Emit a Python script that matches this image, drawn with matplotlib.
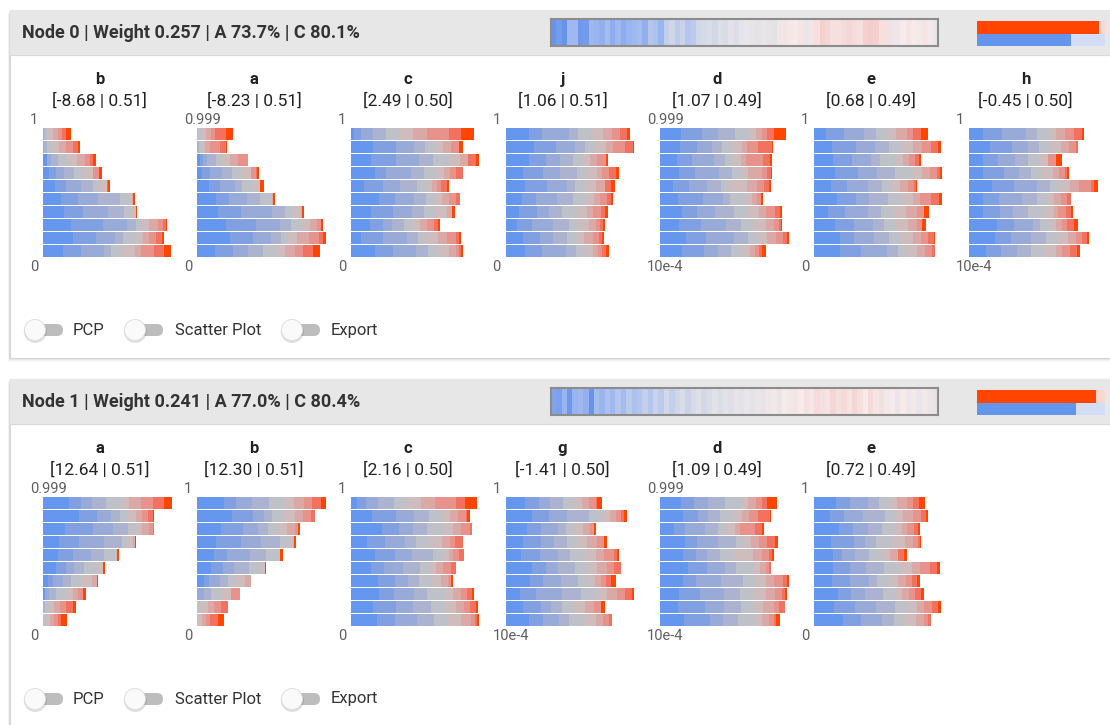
import matplotlib
matplotlib.use("Agg")
import matplotlib.pyplot as plt
from matplotlib.patches import Rectangle, FancyBboxPatch, Circle
from matplotlib.colors import LinearSegmentedColormap

plt.rcParams['font.family'] = ['Roboto', 'DejaVu Sans']

W, H = 1110, 725

# ten value classes, from blue through grey to orange-red
level_colors = ['#6697ee', '#80a0e1', '#98aad8', '#acb3d0', '#bec2c8',
                '#cfbdbd', '#daa9a6', '#e7928a', '#f2715f', '#ff4500']

# ---------------- Node 0 ----------------
node0_title = "Node 0 | Weight 0.257 | A 73.7% | C 80.1%"
node0_features = ['b', 'a', 'c', 'j', 'd', 'e', 'h']
node0_mean = [-8.68, -8.23, 2.49, 1.06, 1.07, 0.68, -0.45]
node0_std = [0.51, 0.51, 0.50, 0.51, 0.49, 0.49, 0.50]
node0_top = ['1', '0.999', '1', '1', '0.999', '1', '1']
node0_bottom = ['0', '0', '0', '0', '10e-4', '0', '10e-4']
node0_summary = [0.95, 0.737]
node0_strip = [-0.9, -0.8, -0.9, -0.45, -0.45, -0.85, -0.8, -0.45, -0.5, -0.55,
               -0.4, -0.6, -0.45, -0.6, -0.5, -0.45, -0.4, -0.55, -0.3, -0.35,
               -0.5, -0.2, -0.12, -0.25, -0.15, -0.3, -0.25, -0.1, -0.08, -0.05,
               -0.1, -0.03, -0.06, 0.0, -0.04, 0.03, 0.08, 0.05, 0.0, 0.1,
               0.04, 0.02, 0.12, 0.25, 0.22, 0.2, 0.25, 0.08, 0.25, 0.3,
               0.45, 0.4, 0.3, 0.3, 0.35, 0.4, 0.35, 0.3, 0.45, 0.5,
               0.45, 0.3, 0.3, 0.1, 0.12, 0.2, 0.25, 0.2, 0.18, 0.25, 0.15, 0.1]

n0_b = [[0, 0, 0, 2, 3, 5, 5, 4, 4, 5],
        [0, 0, 1, 3, 5, 7, 7, 7, 5, 2],
        [4, 0, 4, 7, 9, 10, 8, 5, 3, 3],
        [6, 7, 8, 10, 10, 9, 0, 6, 0, 3],
        [12, 11, 15, 12, 7, 7, 0, 0, 1, 2],
        [18, 17, 20, 22, 10, 2, 1, 0, 0, 2],
        [21, 19, 25, 16, 7, 5, 0, 0, 0, 1],
        [28, 32, 24, 9, 6, 7, 9, 5, 3, 1],
        [30, 23, 19, 8, 12, 8, 6, 7, 6, 2],
        [20, 18, 23, 7, 11, 13, 6, 13, 10, 7]]
n0_a = [[0, 0, 0, 0, 5, 4, 5, 4, 11, 7],
        [0, 0, 0, 2, 2, 4, 5, 10, 6, 1],
        [3, 3, 4, 9, 6, 8, 8, 10, 0, 0],
        [5, 8, 12, 10, 9, 10, 0, 5, 1, 2],
        [12, 11, 15, 7, 11, 7, 0, 0, 0, 4],
        [19, 13, 18, 13, 12, 0, 1, 0, 0, 2],
        [21, 23, 31, 13, 8, 8, 1, 0, 0, 2],
        [29, 30, 24, 11, 11, 8, 7, 4, 0, 2],
        [33, 23, 18, 10, 7, 9, 12, 10, 4, 3],
        [18, 18, 15, 15, 12, 10, 10, 8, 10, 7]]
n0_c = [[3, 7, 12, 13, 13, 14, 14, 22, 12, 13],
        [22, 23, 18, 11, 11, 7, 8, 8, 0, 4],
        [20, 25, 23, 14, 16, 11, 8, 0, 8, 3],
        [24, 11, 25, 13, 11, 9, 6, 6, 7, 0],
        [13, 19, 17, 17, 10, 5, 5, 4, 6, 2],
        [28, 16, 19, 12, 9, 7, 7, 7, 4, 0],
        [20, 22, 19, 12, 12, 11, 5, 0, 0, 3],
        [19, 13, 9, 12, 9, 7, 7, 7, 4, 2],
        [10, 22, 24, 11, 8, 12, 9, 9, 3, 2],
        [24, 18, 23, 12, 9, 12, 7, 3, 2, 2]]
n0_j = [[23, 13, 27, 9, 14, 11, 9, 8, 7, 3],
        [28, 22, 19, 10, 10, 11, 7, 12, 8, 1],
        [23, 17, 14, 13, 10, 7, 7, 9, 0, 2],
        [17, 20, 17, 17, 9, 11, 5, 7, 7, 3],
        [19, 22, 20, 8, 10, 11, 9, 0, 6, 4],
        [16, 14, 21, 16, 12, 9, 6, 7, 4, 2],
        [13, 18, 12, 13, 16, 9, 6, 8, 4, 3],
        [11, 15, 21, 16, 8, 12, 7, 4, 3, 2],
        [17, 17, 13, 14, 10, 7, 9, 6, 3, 2],
        [19, 17, 24, 10, 10, 7, 5, 4, 4, 3]]
n0_d = [[21, 21, 16, 17, 14, 7, 6, 5, 7, 12],
        [20, 17, 15, 10, 10, 10, 5, 11, 14, 1],
        [17, 15, 22, 11, 8, 8, 5, 17, 7, 2],
        [19, 16, 24, 13, 9, 7, 14, 5, 4, 1],
        [13, 16, 18, 14, 9, 17, 10, 7, 5, 2],
        [18, 25, 20, 7, 16, 6, 5, 4, 0, 2],
        [22, 15, 18, 19, 13, 12, 7, 9, 5, 2],
        [19, 22, 25, 15, 13, 12, 8, 5, 2, 1],
        [26, 20, 28, 14, 9, 10, 9, 7, 4, 2],
        [22, 22, 14, 13, 11, 8, 5, 4, 3, 4]]
n0_e = [[12, 18, 20, 12, 11, 9, 11, 6, 8, 7],
        [18, 24, 19, 14, 13, 11, 9, 9, 7, 3],
        [19, 19, 19, 9, 16, 7, 6, 6, 4, 2],
        [21, 23, 19, 18, 16, 11, 8, 7, 3, 2],
        [17, 16, 21, 14, 10, 8, 8, 6, 2, 1],
        [23, 19, 13, 19, 13, 12, 7, 11, 8, 3],
        [14, 17, 23, 13, 12, 13, 11, 7, 0, 5],
        [21, 19, 19, 11, 11, 13, 9, 5, 0, 4],
        [26, 14, 20, 15, 12, 12, 8, 7, 6, 1],
        [26, 21, 26, 11, 8, 11, 8, 7, 3, 0]]
n0_h = [[14, 19, 24, 11, 12, 7, 9, 9, 8, 2],
        [21, 22, 16, 11, 11, 11, 8, 7, 2, 0],
        [14, 15, 17, 13, 11, 9, 0, 8, 0, 6],
        [14, 21, 15, 12, 11, 11, 6, 6, 2, 2],
        [23, 22, 23, 13, 9, 11, 9, 12, 3, 4],
        [14, 16, 23, 15, 10, 7, 7, 6, 4, 0],
        [14, 17, 13, 15, 16, 10, 4, 8, 5, 2],
        [28, 17, 19, 7, 9, 7, 6, 5, 7, 4],
        [26, 16, 20, 15, 11, 11, 8, 6, 5, 2],
        [17, 15, 16, 14, 13, 12, 6, 8, 7, 3]]

# ---------------- Node 1 ----------------
node1_title = "Node 1 | Weight 0.241 | A 77.0% | C 80.4%"
node1_features = ['a', 'b', 'c', 'g', 'd', 'e']
node1_mean = [12.64, 12.30, 2.16, -1.41, 1.09, 0.72]
node1_std = [0.51, 0.51, 0.50, 0.50, 0.49, 0.49]
node1_top = ['0.999', '1', '1', '1', '0.999', '1']
node1_bottom = ['0', '0', '0', '10e-4', '10e-4', '0']
node1_summary = [0.93, 0.770]
node1_strip = [-0.7, -0.75, -0.5, -0.85, -0.5, -0.45, -0.55, -0.9, -0.4, -0.5,
               -0.35, -0.45, -0.3, -0.4, -0.25, -0.35, -0.3, -0.2, -0.3, -0.15,
               -0.25, -0.1, -0.2, -0.12, -0.05, -0.15, -0.08, -0.02, -0.1, -0.05,
               0.0, -0.04, 0.02, -0.02, 0.05, 0.0, 0.08, 0.03, 0.1, 0.05,
               0.12, 0.15, 0.1, 0.2, 0.15, 0.25, 0.2, 0.3, 0.22, 0.35,
               0.3, 0.25, 0.4, 0.3, 0.35, 0.28, 0.4, 0.3, 0.2, 0.35,
               0.25, 0.3, 0.15, 0.2, 0.1, 0.2, 0.12, 0.18, 0.08, 0.15, 0.1, 0.05]

n1_a = [[26, 12, 11, 14, 15, 8, 12, 12, 11, 8],
        [36, 18, 14, 9, 8, 8, 6, 6, 5, 1],
        [22, 28, 20, 15, 7, 7, 7, 4, 1, 0],
        [16, 20, 25, 18, 6, 5, 2, 0, 0, 1],
        [15, 15, 18, 13, 11, 2, 0, 0, 0, 2],
        [13, 10, 8, 10, 13, 6, 0, 0, 0, 2],
        [5, 5, 10, 8, 10, 11, 5, 0, 0, 1],
        [2, 0, 4, 7, 9, 8, 5, 5, 0, 3],
        [0, 0, 0, 2, 4, 5, 6, 6, 7, 3],
        [0, 0, 0, 0, 3, 4, 4, 4, 3, 6]]
n1_b = [[27, 12, 16, 17, 15, 10, 10, 8, 9, 5],
        [35, 21, 11, 8, 12, 11, 8, 8, 4, 0],
        [24, 22, 15, 10, 10, 9, 8, 3, 0, 2],
        [19, 25, 20, 19, 10, 3, 1, 0, 0, 2],
        [17, 13, 23, 16, 14, 0, 0, 0, 0, 3],
        [14, 12, 11, 15, 11, 5, 0, 0, 0, 1],
        [7, 5, 11, 8, 8, 9, 6, 0, 0, 0],
        [0, 0, 7, 7, 10, 10, 0, 9, 0, 0],
        [0, 0, 0, 0, 3, 8, 6, 7, 7, 0],
        [0, 0, 0, 0, 0, 5, 4, 4, 8, 6]]
n1_c = [[6, 9, 12, 16, 13, 14, 14, 21, 9, 12],
        [21, 24, 18, 15, 13, 8, 8, 8, 1, 3],
        [31, 17, 14, 14, 16, 10, 8, 9, 2, 0],
        [16, 18, 20, 11, 14, 12, 8, 5, 8, 0],
        [24, 20, 17, 21, 11, 5, 4, 6, 5, 0],
        [20, 13, 19, 17, 10, 6, 7, 8, 5, 0],
        [27, 17, 13, 11, 12, 10, 7, 3, 0, 2],
        [28, 15, 20, 13, 18, 8, 8, 6, 5, 2],
        [22, 23, 17, 18, 14, 11, 8, 6, 6, 2],
        [26, 18, 22, 17, 14, 13, 10, 4, 2, 2]]
n1_g = [[19, 14, 11, 13, 11, 8, 7, 7, 1, 5],
        [26, 17, 18, 22, 13, 8, 6, 5, 3, 3],
        [21, 14, 17, 8, 8, 9, 7, 4, 0, 2],
        [17, 18, 13, 13, 10, 10, 10, 7, 0, 3],
        [15, 19, 18, 12, 14, 12, 8, 10, 3, 2],
        [26, 14, 12, 17, 12, 10, 10, 7, 7, 0],
        [24, 13, 18, 17, 11, 6, 6, 5, 5, 5],
        [14, 16, 26, 19, 17, 9, 10, 8, 7, 2],
        [17, 18, 10, 11, 12, 11, 9, 7, 0, 4],
        [23, 14, 16, 10, 15, 12, 7, 6, 3, 0]]
n1_d = [[21, 13, 14, 17, 17, 6, 8, 6, 5, 10],
        [23, 15, 10, 12, 13, 9, 7, 9, 12, 1],
        [14, 11, 20, 13, 8, 9, 5, 15, 7, 2],
        [25, 12, 21, 18, 8, 7, 8, 8, 8, 3],
        [23, 13, 11, 13, 14, 19, 9, 7, 3, 2],
        [28, 19, 18, 11, 18, 6, 6, 3, 2, 0],
        [23, 13, 25, 22, 12, 11, 8, 9, 4, 2],
        [19, 21, 24, 16, 13, 13, 9, 7, 3, 2],
        [18, 27, 19, 17, 13, 9, 11, 5, 6, 0],
        [24, 26, 13, 15, 17, 7, 7, 5, 2, 4]]
n1_e = [[22, 14, 18, 11, 10, 8, 10, 6, 6, 6],
        [16, 14, 19, 22, 10, 8, 10, 8, 5, 2],
        [25, 14, 15, 14, 12, 8, 5, 7, 4, 2],
        [17, 23, 11, 11, 16, 13, 8, 5, 2, 1],
        [19, 9, 13, 14, 13, 8, 8, 0, 6, 3],
        [19, 17, 16, 18, 16, 12, 8, 10, 7, 3],
        [18, 18, 19, 8, 12, 9, 8, 6, 5, 3],
        [24, 13, 14, 18, 13, 6, 7, 6, 6, 3],
        [20, 21, 21, 19, 13, 9, 7, 8, 6, 3],
        [29, 18, 21, 12, 10, 12, 8, 4, 3, 0]]

nodes = [
    dict(top=10, height=348, title=node0_title, features=node0_features,
         mean=node0_mean, std=node0_std, tick_top=node0_top,
         tick_bottom=node0_bottom, summary=node0_summary, strip=node0_strip,
         hists=[n0_b, n0_a, n0_c, n0_j, n0_d, n0_e, n0_h]),
    dict(top=379, height=400, title=node1_title, features=node1_features,
         mean=node1_mean, std=node1_std, tick_top=node1_top,
         tick_bottom=node1_bottom, summary=node1_summary, strip=node1_strip,
         hists=[n1_a, n1_b, n1_c, n1_g, n1_d, n1_e]),
]

toggle_labels = ['PCP', 'Scatter Plot', 'Export']
toggle_knob_x = [35, 135, 292]
toggle_text_x = [73, 175, 331]

strip_cmap = LinearSegmentedColormap.from_list(
    'strip', [(0.0, '#5b8dec'), (0.3, '#a6bdf0'), (0.5, '#e2e2e7'),
              (0.6, '#f6eaea'), (1.0, '#f29c95')])

fig = plt.figure(figsize=(W / 100, H / 100), dpi=100)
fig.patch.set_facecolor('white')

bg = fig.add_axes([0, 0, 1, 1])
bg.set_xlim(0, W)
bg.set_ylim(H, 0)
bg.axis('off')
bg.set_zorder(0)


def px_axes(x, y, w, h):
    ax = fig.add_axes([x / W, 1 - (y + h) / H, w / W, h / H])
    ax.set_zorder(2)
    ax.patch.set_alpha(0)
    return ax


chart_left0 = 42.7
chart_step = 154.3
chart_width = 135
row_pitch = 12.95

for node in nodes:
    t = node['top']
    # card with soft shadow
    for k, a in enumerate([0.05, 0.04, 0.03, 0.02]):
        bg.add_patch(Rectangle((9 - k * 0.5, t + 1 + k), W + 20, node['height'],
                               facecolor='black', alpha=a, edgecolor='none'))
    bg.add_patch(Rectangle((10, t), W + 20, node['height'], facecolor='white',
                           edgecolor='#d6d6d6', linewidth=0.8))
    bg.add_patch(Rectangle((10, t), W + 20, 45, facecolor='#e7e7e7',
                           edgecolor='none'))
    bg.plot([10, W], [t + 45, t + 45], color='#d9d9d9', lw=0.8)
    bg.text(22, t + 23, node['title'], fontsize=13, fontweight='bold',
            color='#333333', va='center', ha='left')

    # colour strip
    sax = px_axes(551, t + 9, 387, 27)
    sax.imshow([node['strip']], cmap=strip_cmap, vmin=-1, vmax=1,
               aspect='auto', interpolation='nearest')
    sax.set_xticks([])
    sax.set_yticks([])
    for sp in sax.spines.values():
        sp.set_color('#8c8c8c')
        sp.set_linewidth(1.5)

    # summary bars
    bax = px_axes(977, t + 11, 128, 25)
    bax.barh([0, 1], [1, 1], height=1.0, color=['#fdd7d1', '#d3ddf6'])
    bax.barh([0, 1], node['summary'], height=1.0, color=['#ff4500', '#6495ed'])
    bax.set_xlim(0, 1)
    bax.set_ylim(1.5, -0.5)
    bax.axis('off')

    # per-feature stacked histograms
    for i, feat in enumerate(node['features']):
        x0 = chart_left0 + i * chart_step
        cx = x0 + 57
        bg.text(cx, t + 69, feat, fontsize=12, fontweight='bold',
                color='#222222', ha='center', va='center')
        bg.text(cx, t + 91, f"[{node['mean'][i]:.2f} | {node['std'][i]:.2f}]",
                fontsize=12.5, color='#222222', ha='center', va='center')
        bg.text(x0 - 13, t + 110, node['tick_top'][i], fontsize=10.5,
                color='#5f5f5f', ha='left', va='center')
        bg.text(x0 - 13, t + 256.5, node['tick_bottom'][i], fontsize=10.5,
                color='#5f5f5f', ha='left', va='center')

        ax = px_axes(x0, t + 118, chart_width, row_pitch * 10)
        for r, row in enumerate(node['hists'][i]):
            left = 0
            for k, wd in enumerate(row):
                if wd > 0:
                    ax.barh(r, wd, left=left, height=0.93,
                            color=level_colors[k], linewidth=0)
                left += wd
        ax.set_xlim(0, chart_width)
        ax.set_ylim(9.5, -0.5)
        ax.axis('off')

    # toggle switches
    cy = t + 320
    for kx, tx, lab in zip(toggle_knob_x, toggle_text_x, toggle_labels):
        bg.add_patch(FancyBboxPatch((kx, cy - 6), 28, 12,
                                    boxstyle='round,pad=0,rounding_size=6',
                                    facecolor='#bdbdbd', edgecolor='none'))
        bg.add_patch(Circle((kx + 0.3, cy + 1.5), 11.5, facecolor='black',
                            alpha=0.12, edgecolor='none'))
        bg.add_patch(Circle((kx, cy), 10.5, facecolor='#fafafa',
                            edgecolor='#dcdcdc', linewidth=0.6))
        bg.text(tx, cy, lab, fontsize=12, color='#333333', ha='left',
                va='center')

fig.savefig('out.png', dpi=100, facecolor='white')
